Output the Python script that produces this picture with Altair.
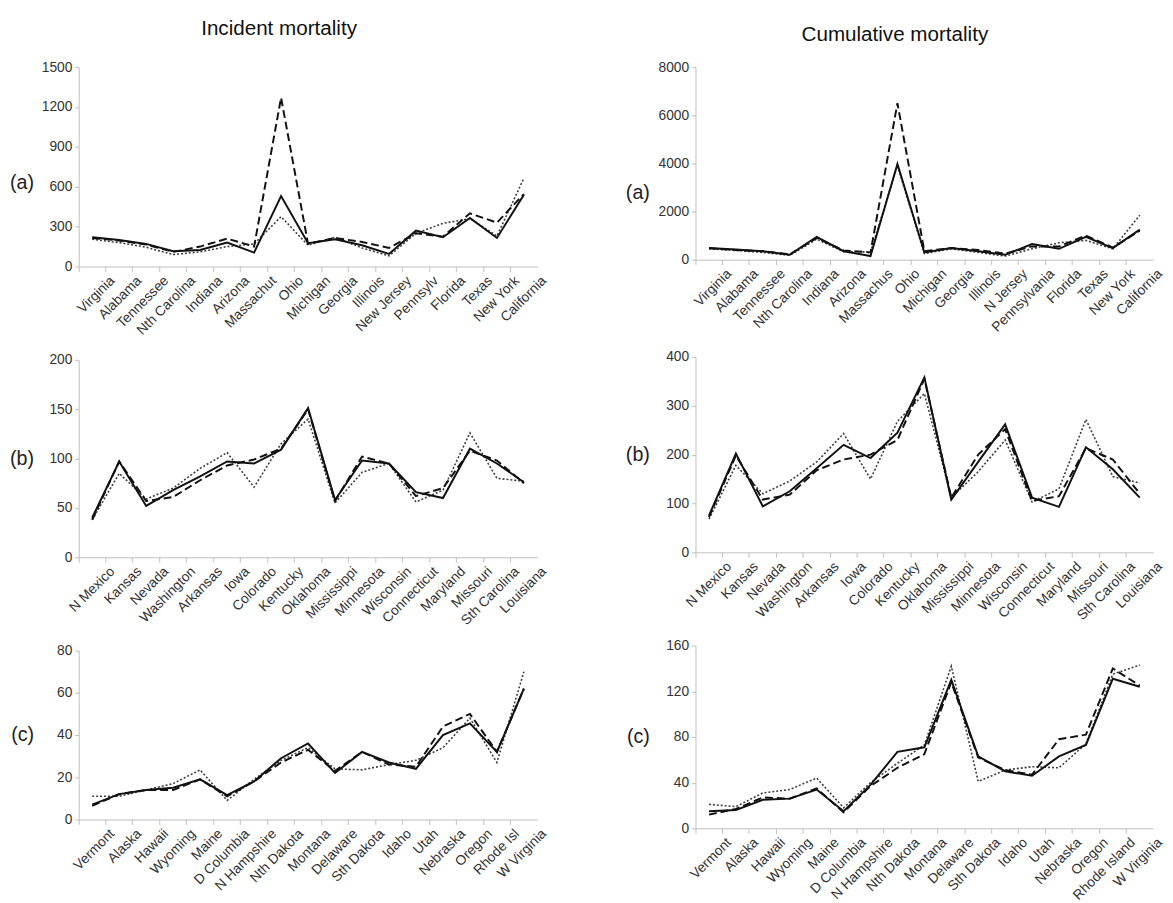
import altair as alt
import pandas as pd

FONT = "Liberation Sans"

# ---------------- Incident mortality ----------------
inc_a_states = ["Virginia", "Alabama", "Tennessee", "Nth Carolina", "Indiana", "Arizona",
                "Massachut", "Ohio", "Michigan", "Georgia", "Illinois", "New Jersey",
                "Pennsylv", "Florida", "Texas", "New York", "California"]
inc_a_solid = [220, 200, 170, 115, 125, 180, 105, 530, 175, 205, 160, 95, 270, 220, 365, 215, 540]
inc_a_dashed = [215, 195, 165, 110, 150, 210, 150, 1270, 170, 215, 185, 140, 250, 225, 400, 330, 545]
inc_a_dotted = [205, 180, 145, 90, 110, 150, 170, 375, 160, 220, 140, 80, 250, 325, 360, 230, 665]

inc_b_states = ["N Mexico", "Kansas", "Nevada", "Washington", "Arkansas", "Iowa", "Colorado",
                "Kentucky", "Oklahoma", "Mississippi", "Minnesota", "Wisconsin", "Connecticut",
                "Maryland", "Missouri", "Sth Carolina", "Louisiana"]
inc_b_solid = [40, 97, 52, 68, 82, 97, 95, 109, 151, 58, 98, 95, 66, 60, 110, 95, 76]
inc_b_dashed = [38, 97, 57, 61, 78, 93, 99, 110, 150, 57, 102, 95, 62, 70, 108, 98, 75]
inc_b_dotted = [38, 85, 59, 70, 90, 106, 71, 115, 140, 55, 86, 95, 56, 68, 126, 80, 77]

inc_c_states = ["Vermont", "Alaska", "Hawaii", "Wyoming", "Maine", "D Columbia", "N Hampshire",
                "Nth Dakota", "Montana", "Delaware", "Sth Dakota", "Idaho", "Utah", "Nebraska",
                "Oregon", "Rhode Isl", "W Virginia"]
inc_c_solid = [7, 12, 14, 15, 19, 11.5, 18, 29, 36, 22, 32, 27, 24, 40, 45.5, 32, 62]
inc_c_dashed = [6.5, 12, 14, 14, 19, 11, 18, 27, 33, 23, 32, 26, 25, 44, 50, 32, 62]
inc_c_dotted = [11, 11, 14, 17, 23.5, 9, 19, 28, 34, 24, 23.5, 26, 28, 34, 48, 27, 70]

# ---------------- Cumulative mortality ----------------
cum_a_states = ["Virginia", "Alabama", "Tennessee", "Nth Carolina", "Indiana", "Arizona",
                "Massachus", "Ohio", "Michigan", "Georgia", "Illinois", "N Jersey",
                "Pennsylvania", "Florida", "Texas", "New York", "California"]
cum_a_solid = [480, 420, 350, 200, 950, 350, 150, 3980, 300, 480, 350, 200, 650, 450, 950, 480, 1250]
cum_a_dashed = [470, 400, 350, 220, 900, 380, 300, 6500, 350, 480, 400, 250, 550, 550, 1000, 500, 1200]
cum_a_dotted = [450, 380, 300, 180, 850, 330, 320, 3900, 250, 450, 300, 150, 450, 700, 800, 450, 1850]

cum_b_states = ["N Mexico", "Kansas", "Nevada", "Washington", "Arkansas", "Iowa", "Colorado",
                "Kentucky", "Oklahoma", "Mississippi", "Minnesota", "Wisconsin", "Connecticut",
                "Maryland", "Missouri", "Sth Carolina", "Louisiana"]
cum_b_solid = [75, 202, 94, 125, 172, 220, 193, 245, 358, 108, 185, 262, 112, 93, 215, 170, 112]
cum_b_dashed = [72, 198, 108, 118, 168, 190, 200, 230, 355, 112, 200, 252, 105, 115, 213, 190, 120]
cum_b_dotted = [68, 178, 120, 146, 185, 243, 150, 268, 325, 112, 165, 230, 103, 130, 272, 155, 142]

cum_c_states = ["Vermont", "Alaska", "Hawaii", "Wyoming", "Maine", "D Columbia", "N Hampshire",
                "Nth Dakota", "Montana", "Delaware", "Sth Dakota", "Idaho", "Utah", "Nebraska",
                "Oregon", "Rhode Island", "W Virginia"]
cum_c_solid = [15, 16, 25, 26, 34, 15, 38, 67, 71, 130, 63, 50, 46, 63, 73, 131, 124]
cum_c_dashed = [12, 17, 27, 26, 35, 14, 37, 53, 65, 128, 62, 51, 47, 78, 82, 140, 125]
cum_c_dotted = [21, 19, 31, 34, 44, 18, 40, 57, 73, 142, 41, 51, 54, 53, 74, 135, 143]


def panel(states, solid, dashed, dotted, ymax, ystep, tag, w, h, tag_y, tag_x):
    n = len(states)
    df = pd.DataFrame({
        "state": states * 3,
        "value": solid + dashed + dotted,
        "series": ["solid"] * n + ["dashed"] * n + ["dotted"] * n,
    })
    bw = w / n
    x = alt.X("state:N", sort=states, title=None,
              scale=alt.Scale(type="band", paddingInner=0, paddingOuter=0),
              bandPosition=0.5,
              axis=alt.Axis(bandPosition=0, labelOffset=bw / 2 + 2, labelAngle=315,
                            labelFont=FONT, labelFontSize=14, labelColor="#333333",
                            domainColor="#bfbfbf", tickColor="#bfbfbf", tickSize=5,
                            labelPadding=2, grid=False))
    y = alt.Y("value:Q", title=tag,
              scale=alt.Scale(domain=[0, ymax], nice=False),
              axis=alt.Axis(values=list(range(0, ymax + 1, ystep)), format="d", grid=False,
                            ticks=True, tickSize=4, tickColor="#bfbfbf",
                            domainColor="#bfbfbf", labelFont=FONT,
                            labelFontSize=14, labelColor="#333333", labelPadding=3,
                            titleAngle=0, titleAlign="right", titleBaseline="middle",
                            titleX=tag_x, titleY=tag_y * h, titleFont=FONT,
                            titleFontSize=20, titleFontWeight="normal", titleColor="#222222"))
    base = alt.Chart(df).encode(x=x, y=y)
    l_dot = base.transform_filter(alt.datum.series == "dotted").mark_line(
        color="#3c3c3c", strokeWidth=1.6, strokeDash=[2, 2])
    l_dash = base.transform_filter(alt.datum.series == "dashed").mark_line(
        color="#111111", strokeWidth=2, strokeDash=[8, 4])
    l_sol = base.transform_filter(alt.datum.series == "solid").mark_line(
        color="#111111", strokeWidth=2)
    return alt.layer(l_dot, l_dash, l_sol).properties(width=w, height=h)


LW, RW = 467, 466

left = alt.vconcat(
    panel(inc_a_states, inc_a_solid, inc_a_dashed, inc_a_dotted, 1500, 300, "(a)", LW, 203, 0.58, -46),
    panel(inc_b_states, inc_b_solid, inc_b_dashed, inc_b_dotted, 200, 50, "(b)", LW, 201, 0.5, -46),
    panel(inc_c_states, inc_c_solid, inc_c_dashed, inc_c_dotted, 80, 20, "(c)", LW, 172, 0.5, -46),
    spacing=16,
    title=alt.TitleParams("Incident mortality", font=FONT, fontSize=21, fontWeight="normal",
                          color="#111111", anchor="middle", offset=22),
)

right = alt.vconcat(
    panel(cum_a_states, cum_a_solid, cum_a_dashed, cum_a_dotted, 8000, 2000, "(a)", RW, 196, 0.65, -47),
    panel(cum_b_states, cum_b_solid, cum_b_dashed, cum_b_dotted, 400, 100, "(b)", RW, 199, 0.5, -47),
    panel(cum_c_states, cum_c_solid, cum_c_dashed, cum_c_dotted, 160, 40, "(c)", RW, 186, 0.5, -47),
    spacing=16,
    title=alt.TitleParams("Cumulative mortality", font=FONT, fontSize=21, fontWeight="normal",
                          color="#111111", anchor="middle", offset=16),
)

chart = alt.hconcat(left, right, spacing=77).configure_view(stroke=None).properties(
    background="white", padding={"left": 1, "top": 2, "right": 0, "bottom": 2})

chart.save("out.html", embed_options={"renderer": "svg", "actions": False})
